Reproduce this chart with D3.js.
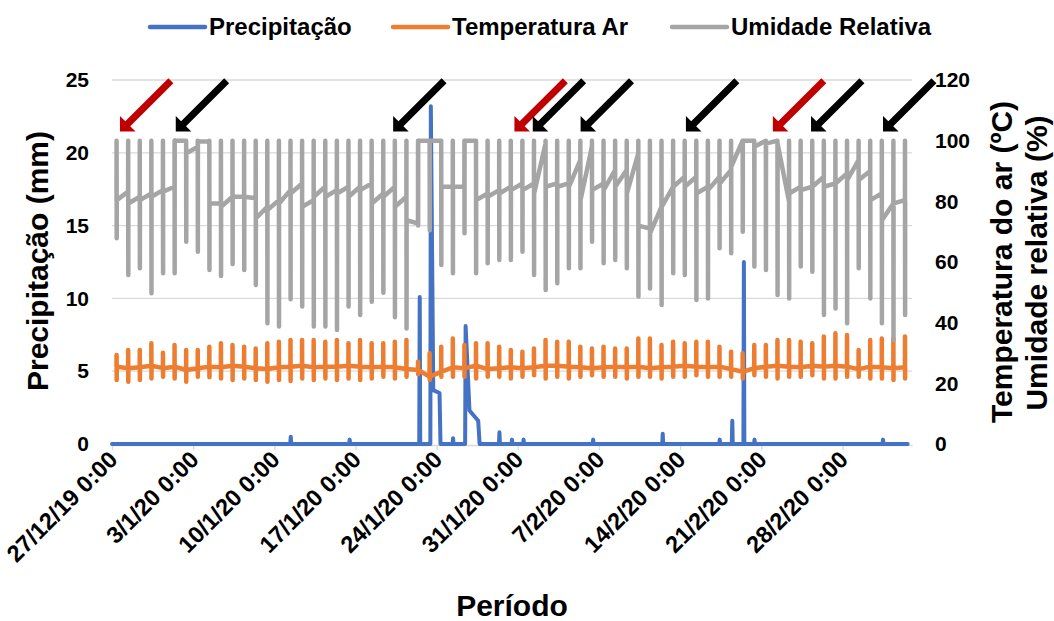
<!DOCTYPE html>
<html>
<head>
<meta charset="utf-8">
<script src="https://cdn.jsdelivr.net/npm/d3@7"></script>
<style>
body { margin: 0; background: #fff; }
text { font-family: "Liberation Sans", Arial, sans-serif; font-weight: bold; fill: #000; }
</style>
</head>
<body>
<div id="chart"></div>
<script>
// period: one value per day, 27/12/19 .. 4/3/20
const firstDay = "2019-12-27 00:00";
const lastDay = "2020-03-05 00:00";

const tickDates = ["2019-12-27 00:00", "2020-01-03 00:00", "2020-01-10 00:00", "2020-01-17 00:00", "2020-01-24 00:00",
  "2020-01-31 00:00", "2020-02-07 00:00", "2020-02-14 00:00", "2020-02-21 00:00", "2020-02-28 00:00"];
const tickLabels = ["27/12/19 0:00", "3/1/20 0:00", "10/1/20 0:00", "17/1/20 0:00", "24/1/20 0:00",
  "31/1/20 0:00", "7/2/20 0:00", "14/2/20 0:00", "21/2/20 0:00", "28/2/20 0:00"];

// relative humidity (%): daily max, daily min, level before / after the daily swing
const humMax = [100, 100, 100, 100, 100, 100, 100, 100, 100, 100,
  100, 100, 100, 100, 100, 100, 100, 100, 100, 100,
  100, 100, 100, 100, 100, 100, 100, 100, 100, 100,
  100, 100, 100, 100, 100, 100, 100, 100, 100, 100,
  100, 100, 100, 100, 100, 100, 100, 100, 100, 100,
  100, 100, 100, 100, 100, 100, 100, 100, 100, 100,
  100, 100, 100, 100, 100, 100, 100, 100, 100];
const humMin = [67.8, 55.7, 57.9, 49.7, 56.3, 56.3, 66.7, 63.4, 57.4, 55.4,
  59.3, 57.4, 52.4, 39.8, 38.7, 47.7, 45.3, 38.7, 38.7, 37.6,
  45.3, 42.5, 46.9, 49.9, 41.8, 38.1, 72.0, 70.5, 59, 56.3,
  69.5, 56.3, 59.6, 60.7, 60.7, 63.4, 55.7, 50.8, 53.0, 57.9,
  57.9, 66.7, 59.6, 60.7, 57.9, 48.6, 51.3, 45.8, 56.3, 55.7,
  47.5, 48.0, 64.5, 62.9, 70.0, 58.5, 57.4, 49.1, 48, 58.5,
  56.8, 42.5, 44.7, 39.8, 57.9, 48, 39.8, 34.3, 42.5];
const humIn = [80, 83.2, 81.5, 82.6, 83.7, 84.8, 100, 98, 99.7, 79.3,
  81.5, 81.5, 81, 78.2, 80.4, 83.7, 85.9, 80.4, 84.8, 83.7,
  84.8, 84.8, 85.9, 82.6, 84.8, 81.5, 72.7, 100, 100, 84.8,
  84.8, 100, 82.6, 83.7, 84.8, 85.9, 85.9, 99.1, 85.9, 85.9,
  93.6, 98, 85.9, 90.3, 90.3, 95.8, 71, 78.2, 84.8, 88.1,
  88.1, 84.8, 88.1, 90.3, 100, 100, 100, 100, 80, 84.8,
  84.8, 88.1, 85.9, 89.2, 93.6, 90, 82.6, 79.3, 80.4];
const humOut = [80.4, 79.3, 80.4, 81.5, 83.2, 100, 95.8, 99.7, 79.3, 78.2,
  81.5, 81.5, 74.4, 77.1, 79.3, 82.6, 78.2, 81.5, 81.5, 82.6,
  81.5, 83.7, 79.3, 81.5, 78.2, 73.8, 100, 100, 84.8, 84.8,
  100, 80.4, 81.5, 82.6, 83.7, 83.7, 82.6, 84.8, 84.8, 84.8,
  80.4, 83.7, 83.7, 84.8, 82.6, 72, 69.5, 78.2, 84.8, 84.8,
  82.6, 83.7, 85.9, 91.4, 100, 98, 99, 99, 82.6, 83.7,
  84.8, 84.8, 85.9, 87, 87, 80.4, 73.8, 79.3, 80];

// air temperature (ºC)
const tempMax = [29.3, 31.0, 31.0, 33.2, 30.1, 32.6, 31.0, 31.0, 32.1, 33.2,
  32.6, 32.1, 31.5, 33.2, 33.7, 34.3, 34.3, 34.3, 33.7, 34.3,
  33.2, 34.3, 33.2, 33.2, 33.7, 34.3, 27.1, 29.9, 32.1, 34.8,
  32.6, 33.2, 33.2, 32.1, 31.0, 30.4, 31.5, 34.3, 33.7, 33.7,
  32.1, 31.5, 32.1, 31.5, 31.5, 34.8, 34.8, 32.6, 33.7, 33.2,
  33.7, 33.7, 32.1, 30.4, 29.9, 32.6, 32.6, 34.3, 34.3, 33.7,
  33.2, 35.4, 36.5, 35.9, 31.0, 34.3, 34.8, 34.8, 35.4];
const tempMin = [21.1, 20.5, 21.1, 21.6, 22.2, 21.6, 20.5, 22.2, 22.0, 21.6,
  21.1, 21.6, 21.1, 20.5, 21.1, 20.8, 21.6, 21.1, 21.6, 21.1,
  21.6, 21.1, 21.6, 22.2, 21.6, 22.2, 23.0, 21.1, 22.2, 22.2,
  22.2, 21.6, 22.2, 22.2, 21.6, 22.2, 22.7, 21.6, 22.2, 21.6,
  22.2, 22.7, 22.2, 22.2, 21.6, 22.2, 22.2, 21.6, 22.2, 22.2,
  22.7, 22.2, 22.2, 22.2, 21.6, 22.7, 22.2, 21.6, 22.2, 22.2,
  22.7, 21.6, 21.6, 22.2, 22.2, 21.6, 21.6, 21.1, 21.6];
const tempMid = [25.5, 25.0, 25.3, 25.8, 25.0, 25.5, 24.4, 25.0, 25.5, 25.3,
  25.8, 25.5, 25.0, 24.7, 25.3, 25.5, 25.8, 25.3, 25.5, 25.5,
  25.8, 25.5, 25.3, 25.5, 25.3, 24.7, 24.4, 22.2, 23.8, 25.3,
  25.0, 25.8, 24.7, 25.0, 25.3, 25.0, 25.3, 25.8, 25.8, 25.5,
  25.3, 25.0, 25.3, 25.5, 25.3, 25.5, 25.0, 25.3, 25.5, 25.8,
  25.5, 25.3, 25.5, 24.7, 23.8, 25.0, 25.5, 25.8, 25.5, 25.3,
  25.8, 25.5, 25.8, 25.5, 24.7, 25.5, 25.3, 25.0, 25.3];

// precipitation (mm) readings
const precip = [
  ["2019-12-27 00:00", 0],
  ["2020-01-11 09:00", 0], ["2020-01-11 10:00", 0.5], ["2020-01-11 11:00", 0],
  ["2020-01-16 11:00", 0], ["2020-01-16 12:00", 0.3], ["2020-01-16 13:00", 0],
  ["2020-01-22 12:00", 0], ["2020-01-22 13:00", 10.1], ["2020-01-22 14:00", 0],
  ["2020-01-23 11:00", 0], ["2020-01-23 12:00", 23.2], ["2020-01-23 17:00", 3.7], ["2020-01-24 06:00", 3.5], ["2020-01-24 08:00", 0],
  ["2020-01-25 09:00", 0], ["2020-01-25 10:00", 0.4], ["2020-01-25 11:00", 0],
  ["2020-01-26 11:00", 0], ["2020-01-26 12:00", 8.1], ["2020-01-26 20:00", 2.3], ["2020-01-27 14:00", 1.6], ["2020-01-27 17:00", 0],
  ["2020-01-29 09:00", 0], ["2020-01-29 10:00", 0.8], ["2020-01-29 11:00", 0],
  ["2020-01-30 11:00", 0], ["2020-01-30 12:00", 0.3], ["2020-01-30 13:00", 0],
  ["2020-01-31 11:00", 0], ["2020-01-31 12:00", 0.3], ["2020-01-31 13:00", 0],
  ["2020-02-06 11:00", 0], ["2020-02-06 12:00", 0.3], ["2020-02-06 13:00", 0],
  ["2020-02-12 11:00", 0], ["2020-02-12 12:00", 0.7], ["2020-02-12 13:00", 0],
  ["2020-02-17 09:00", 0], ["2020-02-17 10:00", 0.3], ["2020-02-17 11:00", 0],
  ["2020-02-18 11:00", 0], ["2020-02-18 12:00", 1.6], ["2020-02-18 13:00", 0],
  ["2020-02-19 11:00", 0], ["2020-02-19 12:00", 12.5], ["2020-02-19 13:00", 0],
  ["2020-02-20 09:00", 0], ["2020-02-20 10:00", 0.3], ["2020-02-20 11:00", 0],
  ["2020-03-02 11:00", 0], ["2020-03-02 12:00", 0.3], ["2020-03-02 13:00", 0],
  ["2020-03-04 15:00", 0]
];

// arrows marking days (tip time), red or black
const arrowTimes = ["2019-12-27 16:30", "2020-01-01 12:00", "2020-01-20 06:00", "2020-01-30 17:00", "2020-02-01 07:00",
  "2020-02-05 10:00", "2020-02-14 12:00", "2020-02-22 00:00", "2020-02-25 07:00", "2020-03-02 12:00"];
const arrowColors = ["#c00000", "#000", "#000", "#c00000", "#000", "#000", "#000", "#c00000", "#000", "#000"];

const seriesNames = ["Precipitação", "Temperatura Ar", "Umidade Relativa"];
const colors = ["#4472c4", "#ed7d31", "#a5a5a5"];

const parse = d3.timeParse("%Y-%m-%d %H:%M");
const W = 1054, H = 621;
const plotL = 112, plotR = 912, plotT = 80, plotB = 444;

const svg = d3.select("#chart").append("svg")
  .attr("width", W).attr("height", H);

const x = d3.scaleTime().domain([parse(firstDay), parse(lastDay)]).range([plotL, plotR]);
const yL = d3.scaleLinear().domain([0, 25]).range([plotB, plotT]);
const yR = d3.scaleLinear().domain([0, 120]).range([plotB, plotT]);

// gridlines
svg.append("g").selectAll("line")
  .data(d3.range(5, 26, 5))
  .enter().append("line")
  .attr("x1", plotL).attr("x2", plotR)
  .attr("y1", d => yL(d)).attr("y2", d => yL(d))
  .attr("stroke", "#d9d9d9").attr("stroke-width", 1.3);

// x axis
const xAxis = svg.append("g")
  .attr("transform", `translate(0,${plotB + 1})`)
  .call(d3.axisBottom(x).tickValues(tickDates.map(parse)).tickSize(5).tickSizeOuter(0).tickFormat(""));
xAxis.selectAll("path, line").attr("stroke", "#d9d9d9").attr("stroke-width", 1.3);

svg.append("g").selectAll("text")
  .data(tickDates)
  .enter().append("text")
  .attr("transform", d => `translate(${x(parse(d)) + 7},${plotB + 17}) rotate(-45)`)
  .attr("text-anchor", "end")
  .attr("font-size", 23.5)
  .text((d, i) => tickLabels[i]);

// y axes
const yAxisL = svg.append("g")
  .attr("transform", `translate(${plotL},0)`)
  .call(d3.axisLeft(yL).tickValues(d3.range(0, 26, 5)).tickSize(0).tickPadding(23));
const yAxisR = svg.append("g")
  .attr("transform", `translate(${plotR},0)`)
  .call(d3.axisRight(yR).tickValues(d3.range(0, 121, 20)).tickSize(0).tickPadding(23));
[yAxisL, yAxisR].forEach(a => {
  a.select(".domain").remove();
  a.selectAll("text").attr("font-size", 21)
    .attr("font-family", "Liberation Sans, Arial, sans-serif").attr("font-weight", "bold").attr("fill", "#000");
});

// axis titles
svg.append("text")
  .attr("transform", `translate(48,261) rotate(-90)`)
  .attr("text-anchor", "middle").attr("font-size", 30)
  .text("Precipitação (mm)");
svg.append("text")
  .attr("transform", `translate(1012,262) rotate(-90)`)
  .attr("text-anchor", "middle").attr("font-size", 30)
  .text("Temperatura do ar (ºC)");
svg.append("text")
  .attr("transform", `translate(1047,263) rotate(-90)`)
  .attr("text-anchor", "middle").attr("font-size", 30)
  .text("Umidade relativa (%)");
svg.append("text")
  .attr("x", (plotL + plotR) / 2).attr("y", 616)
  .attr("text-anchor", "middle").attr("font-size", 30)
  .text("Período");

// build series points
const days = d3.timeDay.range(parse(firstDay), parse(lastDay));
const at = (day, frac) => new Date(day.getTime() + frac * 864e5);

const humPts = [];
const tempPts = [];
days.forEach((day, i) => {
  humPts.push([at(day, 0.39), humIn[i]], [at(day, 0.395), humMax[i]], [at(day, 0.405), humMin[i]], [at(day, 0.41), humOut[i]]);
  tempPts.push([at(day, 0.39), tempMid[i]], [at(day, 0.395), tempMax[i]], [at(day, 0.405), tempMin[i]], [at(day, 0.41), tempMid[i]]);
});

const lineL = d3.line().x(d => x(d[0])).y(d => yL(d[1]));
const lineR = d3.line().x(d => x(d[0])).y(d => yR(d[1]));

function drawLine(pts, gen, color, w) {
  svg.append("path")
    .datum(pts)
    .attr("d", gen)
    .attr("fill", "none")
    .attr("stroke", color)
    .attr("stroke-width", w)
    .attr("stroke-linejoin", "round")
    .attr("stroke-linecap", "round");
}

drawLine(precip.map(d => [parse(d[0]), d[1]]), lineL, colors[0], 4);
drawLine(tempPts, lineR, colors[1], 4.5);
drawLine(humPts, lineR, colors[2], 4.5);

// arrows
const arrowShape = "M0,0 L11,-11 L11,-3.5 L72,-3.5 L72,3.5 L11,3.5 L11,11 Z";
svg.append("g").selectAll("path")
  .data(arrowTimes)
  .enter().append("path")
  .attr("d", arrowShape)
  .attr("transform", d => `translate(${x(parse(d))},${yR(103)}) rotate(-45)`)
  .attr("fill", (d, i) => arrowColors[i]);

// legend
const legendX = [150, 393, 672];
const legend = svg.append("g").selectAll("g")
  .data(seriesNames)
  .enter().append("g")
  .attr("transform", (d, i) => `translate(${legendX[i]},27)`);
legend.append("line")
  .attr("x1", 0).attr("x2", 55)
  .attr("stroke", (d, i) => colors[i]).attr("stroke-width", 4.5).attr("stroke-linecap", "round");
legend.append("text")
  .attr("x", 59).attr("dy", "0.35em")
  .attr("font-size", 24)
  .text(d => d);
</script>
</body>
</html>
